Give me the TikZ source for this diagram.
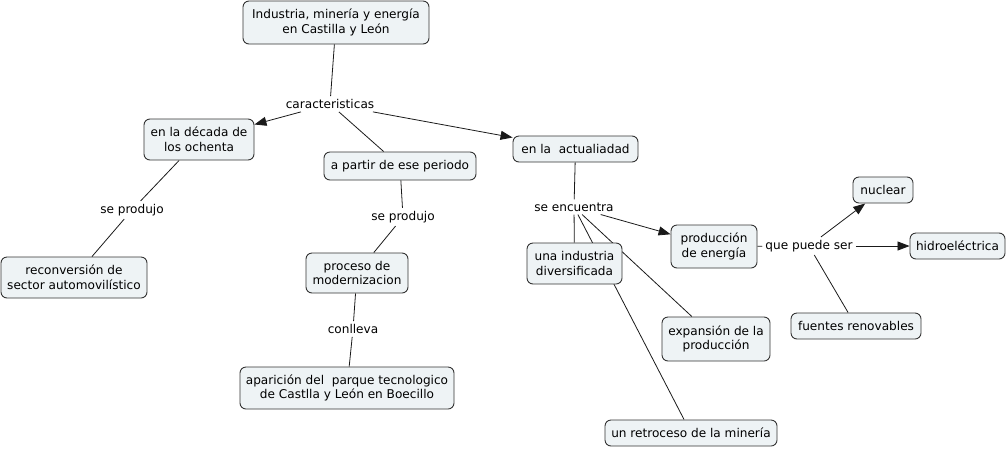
\documentclass[tikz,border=0pt]{standalone}
\usepackage{fontspec}
\setmainfont{DejaVu Sans}
\usetikzlibrary{arrows.meta,backgrounds}
\definecolor{cfill}{HTML}{EEF3F5}
\definecolor{cdraw}{HTML}{333333}
\definecolor{cline}{HTML}{1A1A1A}
\begin{document}
\begin{tikzpicture}[x=1pt,y=-1pt,
  concept/.style={draw=cdraw,fill=cfill,rounded corners=6pt,align=center,inner sep=2pt,line width=0.9pt,
    font=\fontsize{12.1}{14.8}\selectfont},
  linkph/.style={inner sep=3pt,align=center,font=\fontsize{12.1}{14.8}\selectfont},
  conn/.style={draw=cline,line width=0.8pt},
  arr/.style={conn,-{Triangle[length=12pt,width=9pt]}}]
\useasboundingbox (0,0) rectangle (1008,448);
\node[concept,minimum width=186pt,minimum height=43pt] (top) at (336,22.5) {Industria, minería y energía\\en Castilla y León};
\node[linkph] (car) at (330,104) {caracteristicas};
\node[concept,minimum width=110pt,minimum height=41pt] (dec) at (199,139.5) {en la década de\\los ochenta};
\node[concept,minimum width=152pt,minimum height=28pt] (par) at (400,166) {a partir de ese periodo};
\node[concept,minimum width=125pt,minimum height=26pt] (act) at (575.5,149) {en la\ \ actualiadad};
\node[linkph] (sp1) at (132,210) {se produjo};
\node[concept,minimum width=146pt,minimum height=41pt] (rec) at (74,277.5) {reconversión de\\sector automovilístico};
\node[linkph] (sp2) at (403,217) {se produjo};
\node[concept,minimum width=102pt,minimum height=40pt] (pro) at (357,273) {proceso de\\modernizacion};
\node[linkph] (con) at (353,329) {conlleva};
\node[concept,minimum width=214pt,minimum height=42pt] (apa) at (347,388) {aparición del\ \ parque tecnologico\\de Castlla y León en Boecillo};
\node[linkph] (sen) at (574,207) {se encuentra};
\node[concept,minimum width=95pt,minimum height=41pt] (ind) at (574.5,263.5) {una industria\\diversificada};
\node[concept,minimum width=86pt,minimum height=43pt] (ene) at (714,246.5) {producción\\de energía};
\node[linkph] (qps) at (809,246) {que puede ser};
\node[concept,minimum width=60pt,minimum height=26pt] (nuc) at (883,190) {nuclear};
\node[concept,minimum width=95pt,minimum height=26pt] (hid) at (957.5,246) {hidroeléctrica};
\node[concept,minimum width=130pt,minimum height=26pt] (fue) at (856,326) {fuentes renovables};
\node[concept,minimum width=108pt,minimum height=44pt] (exp) at (716,339) {expansión de la\\producción};
\node[concept,minimum width=172pt,minimum height=26pt] (ret) at (691,433) {un retroceso de la minería};
\begin{scope}[on background layer]
\draw[conn] (top) -- (car);
\draw[arr] (car) -- (dec);
\draw[conn] (car) -- (par);
\draw[arr] (car) -- (act);
\draw[conn] (dec) -- (sp1);
\draw[conn] (sp1) -- (rec);
\draw[conn] (par) -- (sp2);
\draw[conn] (sp2) -- (pro);
\draw[conn] (pro) -- (con);
\draw[conn] (con) -- (apa);
\draw[conn] (act) -- (sen);
\draw[conn] (sen) -- (ind);
\draw[arr] (sen) -- (ene);
\draw[conn] (sen) -- (exp);
\draw[conn] (sen) -- (ret);
\draw[conn] (ene) -- (qps);
\draw[arr] (qps) -- (nuc);
\draw[arr] (qps) -- (hid);
\draw[conn] (fue) -- (qps);
\end{scope}
\end{tikzpicture}
\end{document}
